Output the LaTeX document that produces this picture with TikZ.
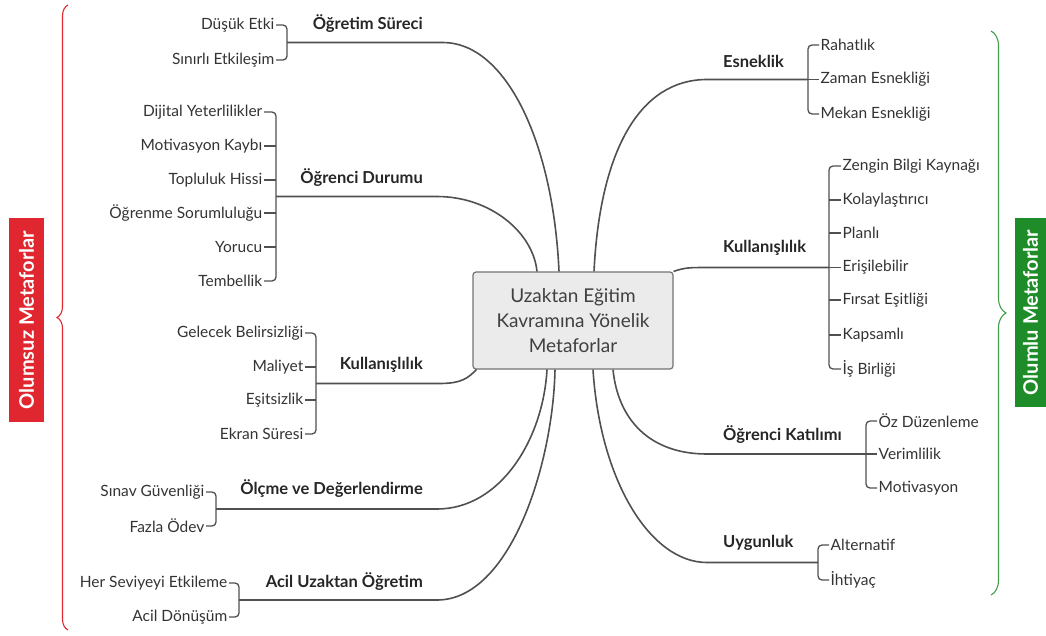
\documentclass[tikz,border=0pt]{standalone}
\usepackage{fontspec}
\setmainfont{Lato}
\usetikzlibrary{calc,decorations.pathreplacing}
\definecolor{olumsuz}{HTML}{E0262E}
\definecolor{olumlu}{HTML}{1F8C2A}
\definecolor{dalgri}{HTML}{505050}
\begin{document}
\begin{tikzpicture}
[x=1pt,y=-1pt,
  rootdecorate/.style={shape=rectangle,rounded corners=3pt,draw=black!55,fill=black!8,line width=1.2pt,minimum width=200pt,minimum height=97pt,align=center,font=\fontsize{19}{25}\selectfont,text=black!75},
  topicleft/.style={anchor=east,inner sep=0pt,font=\fontsize{16.5}{18}\selectfont\bfseries,text=black!85},
  topicright/.style={anchor=west,inner sep=0pt,font=\fontsize{16.5}{18}\selectfont\bfseries,text=black!85},
  leafleft/.style={anchor=east,inner sep=1.5pt,font=\fontsize{15.5}{17}\selectfont,text=black!80},
  leafright/.style={anchor=west,inner sep=1.5pt,font=\fontsize{15.5}{17}\selectfont,text=black!80},
  branchdecorate/.style={-,line width=1.6pt,draw=dalgri},
  bracketdecorate/.style={-,line width=1.3pt,draw=dalgri,rounded corners=4pt},
  sidedecorate/.style={shape=rectangle,rotate=90,text=white,inner sep=0pt,font=\fontsize{20}{22}\selectfont\bfseries},
  bracedecorate/.style={decorate,line width=1.1pt}]
\useasboundingbox (0,0) rectangle (1046,635);
%%% centre
\node (root) at (573,320.5) [rootdecorate] {Uzaktan Eğitim\\Kavramına Yönelik\\Metaforlar};
%
%%% Öğretim Süreci
% nodes
\node (dus) at (276,25) [leafleft] {Düşük Etki};
\node (sin) at (276,60) [leafleft] {Sınırlı Etkileşim};
\node (ogs) at (423,24) [topicleft] {Öğretim Süreci};
\coordinate (jogs) at (287,42.5);
% lines
\draw[bracketdecorate] (dus.east) -| (jogs) |- (sin.east);
\draw[branchdecorate] (jogs) -- (443,42.5) .. controls (505,42.5) and (553,140) .. ([xshift=-14pt]root.north);
%
%%% Öğrenci Durumu
% nodes
\node (dij) at (264,112) [leafleft] {Dijital Yeterlilikler};
\node (mok) at (264,146) [leafleft] {Motivasyon Kaybı};
\node (top) at (264,180) [leafleft] {Topluluk Hissi};
\node (sor) at (264,213) [leafleft] {Öğrenme Sorumluluğu};
\node (yor) at (264,247) [leafleft] {Yorucu};
\node (tem) at (264,281) [leafleft] {Tembellik};
\node (ogd) at (423,178) [topicleft] {Öğrenci Durumu};
\coordinate (jogd) at (276,196.5);
% lines
\draw[bracketdecorate] (dij.east) -| (jogd) |- (tem.east);
\path
(mok.east) edge[bracketdecorate] (mok.east -| jogd)
(top.east) edge[bracketdecorate] (top.east -| jogd)
(sor.east) edge[bracketdecorate] (sor.east -| jogd)
(yor.east) edge[bracketdecorate] (yor.east -| jogd);
\draw[branchdecorate] (jogd) -- (437,196.5) .. controls (490,196.5) and (533,232) .. ([xshift=-36pt]root.north);
%
%%% Kullanışlılık (olumsuz)
% nodes
\node (gel) at (305,333) [leafleft] {Gelecek Belirsizliği};
\node (mal) at (305,367) [leafleft] {Maliyet};
\node (esz) at (305,400) [leafleft] {Eşitsizlik};
\node (ekr) at (305,434) [leafleft] {Ekran Süresi};
\node (kul) at (423,365) [topicleft] {Kullanışlılık};
\coordinate (jkul) at (316,383.5);
% lines
\draw[bracketdecorate] (gel.east) -| (jkul) |- (ekr.east);
\path
(mal.east) edge[bracketdecorate] (mal.east -| jkul)
(esz.east) edge[bracketdecorate] (esz.east -| jkul);
\draw[branchdecorate] (jkul) -- (439,383.5) .. controls (462,383.5) and (468,378) .. ([xshift=4pt]root.south west);
%
%%% Ölçme ve Değerlendirme
% nodes
\node (sig) at (206,492) [leafleft] {Sınav Güvenliği};
\node (fod) at (206,526) [leafleft] {Fazla Ödev};
\node (old) at (423,489) [topicleft] {Ölçme ve Değerlendirme};
\coordinate (jold) at (216,509);
% lines
\draw[bracketdecorate] (sig.east) -| (jold) |- (fod.east);
\draw[branchdecorate] (jold) -- (437,509) .. controls (500,509) and (543,440) .. ([xshift=-26pt]root.south);
%
%%% Acil Uzaktan Öğretim
% nodes
\node (hse) at (229,583) [leafleft] {Her Seviyeyi Etkileme};
\node (adn) at (229,617) [leafleft] {Acil Dönüşüm};
\node (auo) at (423,582) [topicleft] {Acil Uzaktan Öğretim};
\coordinate (jauo) at (239,600);
% lines
\draw[bracketdecorate] (hse.east) -| (jauo) |- (adn.east);
\draw[branchdecorate] (jauo) -- (437,600) .. controls (510,600) and (553,465) .. ([xshift=-18pt]root.south);
%
%%% Esneklik
% nodes
\node (rah) at (819,45) [leafright] {Rahatlık};
\node (zam) at (819,79.5) [leafright] {Zaman Esnekliği};
\node (mek) at (819,114) [leafright] {Mekan Esnekliği};
\node (esn) at (723,61) [topicright] {Esneklik};
\coordinate (jesn) at (808,79.5);
% lines
\draw[bracketdecorate] (rah.west) -| (jesn) |- (mek.west);
\path (zam.west) edge[bracketdecorate] (jesn);
\draw[branchdecorate] ([xshift=21pt]root.north) .. controls (600,150) and (640,79.5) .. (707,79.5) -- (jesn);
%
%%% Kullanışlılık (olumlu)
% nodes
\node (zen) at (841,166) [leafright] {Zengin Bilgi Kaynağı};
\node (kol) at (841,200) [leafright] {Kolaylaştırıcı};
\node (pla) at (841,233) [leafright] {Planlı};
\node (eri) at (841,267.5) [leafright] {Erişilebilir};
\node (fir) at (841,300) [leafright] {Fırsat Eşitliği};
\node (kap) at (841,335) [leafright] {Kapsamlı};
\node (isb) at (841,369) [leafright] {İş Birliği};
\node (kur) at (723,248) [topicright] {Kullanışlılık};
\coordinate (jkur) at (829,267.5);
% lines
\draw[bracketdecorate] (zen.west) -| (jkur) |- (isb.west);
\path
(kol.west) edge[bracketdecorate] (kol.west -| jkur)
(pla.west) edge[bracketdecorate] (pla.west -| jkur)
(eri.west) edge[bracketdecorate] (jkur)
(fir.west) edge[bracketdecorate] (fir.west -| jkur)
(kap.west) edge[bracketdecorate] (kap.west -| jkur);
\draw[branchdecorate] (root.north east) .. controls (685,267.5) and (690,267.5) .. (707,267.5) -- (jkur);
%
%%% Öğrenci Katılımı
% nodes
\node (ozd) at (877,421) [leafright] {Öz Düzenleme};
\node (ver) at (877,454) [leafright] {Verimlilik};
\node (mot) at (877,488) [leafright] {Motivasyon};
\node (okt) at (723,435) [topicright] {Öğrenci Katılımı};
\coordinate (jokt) at (866,454);
% lines
\draw[bracketdecorate] (ozd.west) -| (jokt) |- (mot.west);
\path (ver.west) edge[bracketdecorate] (jokt);
\draw[branchdecorate] ([xshift=40pt]root.south) .. controls (618,420) and (650,454) .. (707,454) -- (jokt);
%
%%% Uygunluk
% nodes
\node (alt) at (829,545) [leafright] {Alternatif};
\node (iht) at (829,580) [leafright] {İhtiyaç};
\node (uyg) at (723,543) [topicright] {Uygunluk};
\coordinate (juyg) at (818,562.5);
% lines
\draw[bracketdecorate] (alt.west) -| (juyg) |- (iht.west);
\draw[branchdecorate] ([xshift=20pt]root.south) .. controls (600,480) and (650,562.5) .. (707,562.5) -- (juyg);
%
%%% braces and side labels
\draw[bracedecorate,draw=olumsuz,decoration={brace,amplitude=11pt}] (68,630) -- (68,5);
\draw[bracedecorate,draw=olumlu!85,decoration={brace,amplitude=15pt}] (991,31) -- (991,595);
\node (neg) at (26.5,320) [sidedecorate,fill=olumsuz,minimum width=204pt,minimum height=35pt] {Olumsuz Metaforlar};
\node (pos) at (1030.5,312.5) [sidedecorate,fill=olumlu,minimum width=189pt,minimum height=31pt] {Olumlu Metaforlar};
\end{tikzpicture}
\end{document}
